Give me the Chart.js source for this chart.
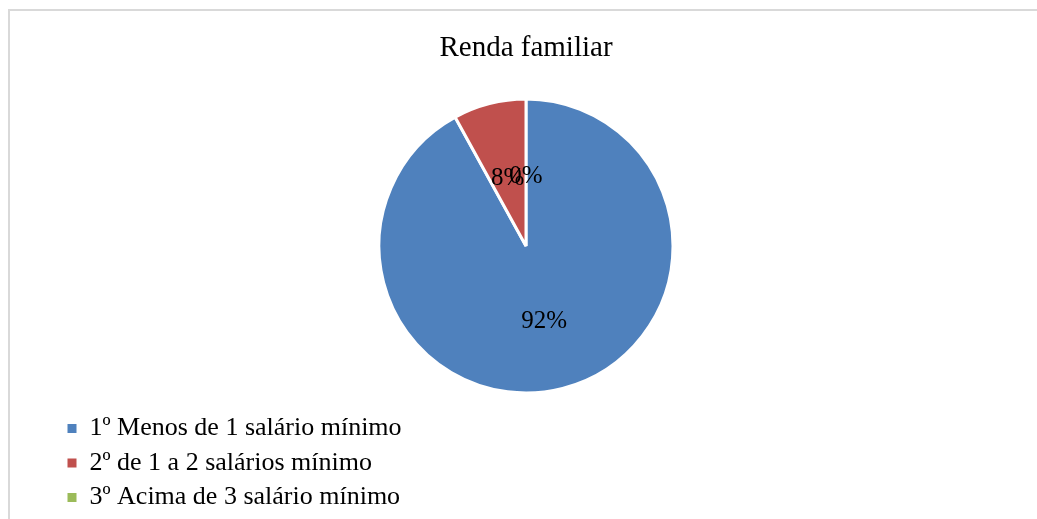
<!DOCTYPE html>
<html>
<head>
<meta charset="utf-8">
<script src="https://cdn.jsdelivr.net/npm/chart.js@4/dist/chart.umd.min.js"></script>
<style>
  body { margin: 0; background: #fff; overflow: hidden; }
  #frame { position: absolute; left: 8px; top: 9px; width: 1100px; height: 600px; border: 2px solid #d9d9d9; }
  #pie { position: absolute; left: 0; top: 0; }
</style>
</head>
<body>
<div id="frame"></div>
<canvas id="pie" width="1037" height="519"></canvas>
<script>
const titleText = 'Renda familiar';
const categories = ['1º Menos de 1 salário mínimo', '2º de 1 a 2 salários mínimo', '3º Acima de 3 salário mínimo'];
const percents = [92, 8, 0];
const colors = ['#4f81bd', '#c0504d', '#9bbb59'];

// where the pie sits (center and diameter), legend keeps its own place
const pieBox = { cx: 526, cy: 246, size: 297 };

const pieArea = {
  id: 'pieArea',
  afterLayout(chart) {
    const a = chart.chartArea;
    a.left = pieBox.cx - pieBox.size / 2;
    a.right = pieBox.cx + pieBox.size / 2;
    a.top = pieBox.cy - pieBox.size / 2;
    a.bottom = pieBox.cy + pieBox.size / 2;
    a.width = pieBox.size;
    a.height = pieBox.size;
  }
};

const sliceLabels = {
  id: 'sliceLabels',
  afterDatasetsDraw(chart) {
    const ctx = chart.ctx;
    const meta = chart.getDatasetMeta(0);
    ctx.save();
    ctx.font = '25px "Liberation Serif", "Times New Roman", serif';
    ctx.fillStyle = '#000';
    ctx.textAlign = 'center';
    ctx.textBaseline = 'middle';
    meta.data.forEach((arc, i) => {
      const p = arc.tooltipPosition();
      ctx.fillText(percents[i] + '%', p.x, p.y + 4);
    });
    ctx.restore();
  }
};

const ctx = document.getElementById('pie');
const chart = new Chart(ctx, {
  type: 'pie',
  data: {
    labels: categories,
    datasets: [{
      data: percents,
      backgroundColor: colors,
      borderColor: '#ffffff',
      borderWidth: 3
    }]
  },
  options: {
    responsive: false,
    devicePixelRatio: 1,
    animation: false,
    layout: { padding: { left: 59, right: 44, top: 0, bottom: 0 } },
    plugins: {
      tooltip: { enabled: false },
      title: {
        display: true,
        text: titleText,
        color: '#000',
        font: { family: '"Liberation Serif", "Times New Roman", serif', size: 29, weight: 'normal' },
        padding: { top: 31, bottom: 10 }
      },
      legend: {
        position: 'left',
        align: 'end',
        labels: {
          color: '#000',
          font: { family: '"Liberation Serif", "Times New Roman", serif', size: 26 },
          boxWidth: 9,
          boxHeight: 9,
          padding: 8.5,
          generateLabels(chart) {
            return Chart.overrides.pie.plugins.legend.labels.generateLabels(chart)
              .map(l => Object.assign(l, { lineWidth: 0, strokeStyle: l.fillStyle }));
          }
        }
      }
    }
  },
  plugins: [pieArea, sliceLabels]
});
</script>
</body>
</html>
